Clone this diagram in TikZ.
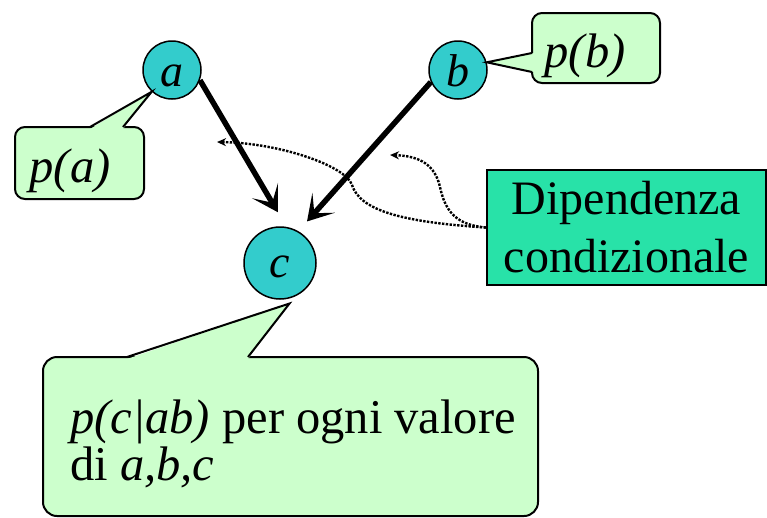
\documentclass[tikz,border=0pt]{standalone}
\usepackage{fontspec}
\setmainfont{Liberation Serif}
\usetikzlibrary{arrows.meta,calc}
\definecolor{nodeteal}{RGB}{51,204,204}
\definecolor{notegreen}{RGB}{204,255,204}
\definecolor{mint}{RGB}{40,226,168}
\begin{document}
\begin{tikzpicture}[x=1pt,y=-1pt,
  vertex/.style={circle, draw, line width=1.5pt, fill=nodeteal, inner sep=0pt,
    font=\fontsize{46}{46}\selectfont\itshape},
  notebody/.style={draw, line width=2pt, fill=notegreen, rounded corners=#1},
  notebody/.default=10pt,
  notetip/.style={fill=notegreen},
  noteedge/.style={draw, line width=2pt, line join=miter},
  notetext/.style={inner sep=0pt, font=\fontsize{48.5}{47}\selectfont},
  dipbox/.style={draw, line width=2pt, fill=mint, inner sep=0pt, align=center,
    minimum width=279pt, minimum height=115pt, font=\fontsize{48}{58}\selectfont},
  causal/.style={line width=5.5pt, -{Stealth[length=25pt,width=30pt,inset=14pt]}},
  hint/.style={line width=2.4pt, dash pattern=on 2.4pt off 1.4pt,
    -{Stealth[length=9pt,width=8pt]}}]
\useasboundingbox (0,0) rectangle (767,517);

% variables of the network
\node[vertex, minimum size=58pt, text height=34pt] (a) at (172,70) {a};
\node[vertex, minimum size=58pt, text height=34pt] (b) at (458,70) {b};
\node[vertex, minimum size=72pt, text height=30pt] (c) at (280,263) {c};

% callout for p(a)
\draw[notebody] (15,127) rectangle (144,199);
\fill[notetip] (90,129) -- (a.227) -- (123,129) -- cycle;
\draw[noteedge] (90,127) -- (a.227) -- (123,127);
\node[notetext, anchor=base] (pa) at (70,182) {\textit{p(a)}};

% callout for p(b)
\draw[notebody] (532,13) rectangle (660,83);
\fill[notetip] (534,53) -- (b.15) -- (534,72) -- cycle;
\draw[noteedge] (532,53) -- (b.15) -- (532,72);
\node[notetext, anchor=base] (pb) at (585,67) {\textit{p(b)}};

% callout for the conditional table of c
\coordinate (ctip) at ($(c.285)+(0,5)$);
\draw[notebody=14pt] (43,357) rectangle (538,516);
\fill[notetip] (127,359) -- (ctip) -- (248,359) -- cycle;
\draw[noteedge] (127,357) -- (ctip) -- (248,357);
\node[notetext, anchor=base west, align=left] (pc) at (70,480)
  {\textit{p(c|ab)} per ogni valore\\di \textit{a,b,c}};

% label box
\node[dipbox] (dip) at (626.5,227.5) {Dipendenza\\condizionale};

% causal edges
\draw[causal, shorten >=17pt] (a.-20) -- (c.80);
\draw[causal, shorten >=13pt] (b.204) -- (c.60);

% dotted pointers from the label to the two edges
\coordinate (toA) at (217,142);
\coordinate (toB) at (390,155);
\draw[hint] (dip.west) .. controls (400,222) and (360,210) .. (352,185)
  .. controls (346,166) and (280,143) .. (toA);
\draw[hint] (dip.west) .. controls (455,225) and (445,210) .. (440,187)
  .. controls (435,165) and (420,156) .. (toB);
\end{tikzpicture}
\end{document}
